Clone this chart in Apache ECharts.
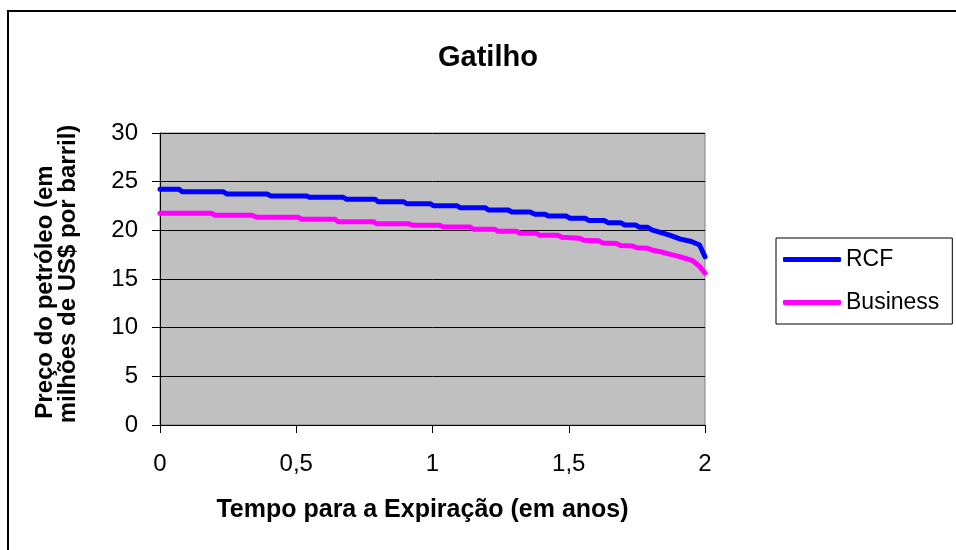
<!DOCTYPE html>
<html>
<head>
<meta charset="utf-8">
<script src="https://cdn.jsdelivr.net/npm/echarts@6/dist/echarts.min.js"></script>
<style>html,body{margin:0;padding:0;background:#fff}#c{width:956px;height:550px}</style>
</head>
<body>
<div id="c"></div>
<script>
const titleText = 'Gatilho';
const xAxisName = 'Tempo para a Expiração (em anos)';
const yAxisLines = ['Preço do petróleo (em', 'milhões de US$ por barril)'];
const seriesNames = ['RCF', 'Business'];
const xTicks = [0, 0.5, 1, 1.5, 2];
const yTicks = [0, 5, 10, 15, 20, 25, 30];

const rcfX = [0, 0.07, 0.082, 0.231, 0.246, 0.393, 0.407, 0.538, 0.55, 0.673, 0.685, 0.789, 0.801, 0.893, 0.905, 0.991, 1.003, 1.089, 1.101, 1.193, 1.205, 1.278, 1.291, 1.358, 1.376, 1.413, 1.425, 1.49, 1.505, 1.56, 1.575, 1.63, 1.645, 1.69, 1.705, 1.745, 1.76, 1.79, 1.805, 1.83, 1.87, 1.91, 1.95, 1.98, 2.0];
const rcfY = [24.22, 24.22, 23.97, 23.97, 23.73, 23.73, 23.53, 23.53, 23.39, 23.39, 23.19, 23.19, 22.94, 22.94, 22.74, 22.74, 22.53, 22.53, 22.33, 22.33, 22.09, 22.09, 21.88, 21.88, 21.65, 21.65, 21.47, 21.47, 21.24, 21.24, 21.0, 21.0, 20.79, 20.79, 20.55, 20.55, 20.31, 20.31, 20.05, 19.85, 19.5, 19.1, 18.85, 18.5, 17.3];

const busX = [0, 0.19, 0.202, 0.337, 0.355, 0.508, 0.52, 0.642, 0.654, 0.783, 0.795, 0.911, 0.93, 1.028, 1.04, 1.138, 1.15, 1.229, 1.241, 1.309, 1.321, 1.382, 1.394, 1.46, 1.475, 1.54, 1.555, 1.61, 1.625, 1.675, 1.69, 1.735, 1.75, 1.79, 1.805, 1.835, 1.87, 1.91, 1.955, 1.98, 2.0];
const busY = [21.75, 21.75, 21.55, 21.55, 21.34, 21.34, 21.13, 21.13, 20.89, 20.89, 20.68, 20.68, 20.51, 20.51, 20.34, 20.34, 20.11, 20.11, 19.90, 19.90, 19.70, 19.70, 19.49, 19.49, 19.28, 19.18, 18.97, 18.92, 18.70, 18.65, 18.45, 18.40, 18.20, 18.15, 17.98, 17.81, 17.55, 17.28, 16.88, 16.30, 15.60];

const pair = (xs, ys) => xs.map((x, i) => [x, ys[i]]);
const FONT = 'Liberation Sans, Arial, sans-serif';

const chart = echarts.init(document.getElementById('c'), null, {renderer: 'canvas'});
chart.setOption({
  animation: false,
  backgroundColor: '#ffffff',
  title: {
    text: titleText, left: 433, top: 38,
    textStyle: {fontFamily: FONT, fontWeight: 'bold', fontSize: 29, color: '#000'}
  },
  graphic: [
    {
      type: 'rect', shape: {x: 8, y: 11, width: 960, height: 560},
      style: {fill: 'none', stroke: '#000', lineWidth: 2}, silent: true, z: -1
    },
    {
      type: 'text', x: 45, y: 292, rotation: Math.PI / 2, silent: true,
      style: {text: yAxisLines[0], font: 'bold 24px ' + FONT, fill: '#000', align: 'center', verticalAlign: 'middle'}
    },
    {
      type: 'text', x: 68, y: 274, rotation: Math.PI / 2, silent: true,
      style: {text: yAxisLines[1], font: 'bold 24px ' + FONT, fill: '#000', align: 'center', verticalAlign: 'middle'}
    }
  ],
  legend: {
    orient: 'vertical', left: 776, top: 238,
    padding: [10, 13, 10, 7], itemGap: 20,
    itemWidth: 58, itemHeight: 5, icon: 'roundRect',
    borderColor: '#000', borderWidth: 1,
    textStyle: {fontFamily: FONT, fontSize: 23, color: '#000'},
    data: seriesNames
  },
  grid: {
    left: 160, top: 133, width: 545, height: 292,
    show: true, backgroundColor: '#C0C0C0', borderColor: '#808080', borderWidth: 1
  },
  xAxis: {
    type: 'value', min: 0, max: 2, interval: 0.5,
    name: xAxisName, nameLocation: 'middle', nameGap: 73,
    nameTextStyle: {fontFamily: FONT, fontWeight: 'bold', fontSize: 25, color: '#000', padding: [0, 20, 0, 0]},
    axisLine: {show: true, lineStyle: {color: '#000', width: 1}},
    axisTick: {show: true, length: 8, inside: false, lineStyle: {color: '#000'}},
    axisLabel: {
      margin: 27, fontFamily: FONT, fontSize: 24, color: '#000',
      formatter: v => xTicks.includes(v) ? String(v).replace('.', ',') : ''
    },
    splitLine: {show: false}
  },
  yAxis: {
    type: 'value', min: 0, max: 30, interval: 5,
    axisLine: {show: true, lineStyle: {color: '#000', width: 1}},
    axisTick: {show: true, length: 8, lineStyle: {color: '#000'}},
    axisLabel: {
      margin: 22, fontFamily: FONT, fontSize: 24, color: '#000',
      formatter: v => yTicks.includes(v) ? String(v) : ''
    },
    splitLine: {show: true, lineStyle: {color: '#000', width: 1}}
  },
  series: [
    {name: seriesNames[0], type: 'line', data: pair(rcfX, rcfY), showSymbol: false, color: '#0000FF',
     lineStyle: {width: 5, color: '#0000FF', cap: 'round', join: 'round'}},
    {name: seriesNames[1], type: 'line', data: pair(busX, busY), showSymbol: false, color: '#FF00FF',
     lineStyle: {width: 5, color: '#FF00FF', cap: 'round', join: 'round'}}
  ]
});
</script>
</body>
</html>
